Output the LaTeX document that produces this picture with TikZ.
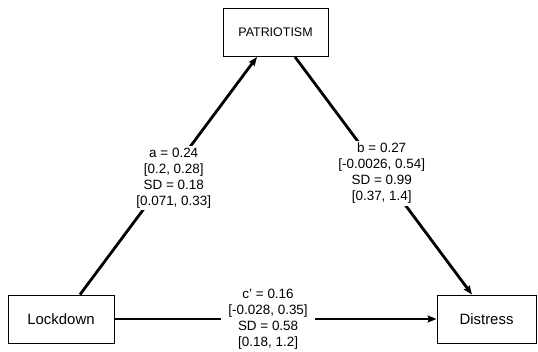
\documentclass[tikz,border=0pt]{standalone}
\usepackage{fontspec}
\setmainfont{Liberation Sans}
\usetikzlibrary{arrows.meta}
\tikzset{
  varbox/.style={draw,line width=0.9pt,minimum height=48bp,inner sep=0pt,font=\fontsize{15}{18}\selectfont},
  effect/.style={line width=2.8bp,-{Stealth[length=9bp,width=7bp,inset=1.5bp]}},
  coef/.style={fill=white,align=center,inner xsep=5bp,inner ysep=2bp,font=\fontsize{13.5}{16}\selectfont}
}

\begin{document}
\begin{tikzpicture}[x=1bp,y=1bp]
    \useasboundingbox (0,0) rectangle (538,351);
    \node[varbox,minimum width=105bp,font=\fontsize{12.5}{15}\selectfont] (pat) at (275.5,318.5) {PATRIOTISM};
    \node[varbox,minimum width=106bp] (lock) at (61,32) {Lockdown};
    \node[varbox,minimum width=99bp] (dist) at (486.5,32) {Distress};
    \draw[effect] ([xshift=19bp]lock.north) -- node[coef,pos=0.49,xshift=7bp] {a = 0.24\\{}[0.2, 0.28]\\SD = 0.18\\{}[0.071, 0.33]} ([xshift=-18.5bp]pat.south);
    \draw[effect] ([xshift=19.5bp]pat.south) -- node[coef,pos=0.49] {b = 0.27\\{}[-0.0026, 0.54]\\SD = 0.99\\{}[0.37, 1.4]} ([xshift=-14.5bp]dist.north);
    \draw[effect] (lock.east) -- node[coef,pos=0.477,inner xsep=7bp] {c' = 0.16\\{}[-0.028, 0.35]\\SD = 0.58\\{}[0.18, 1.2]} (dist.west);
  \end{tikzpicture}
\end{document}
